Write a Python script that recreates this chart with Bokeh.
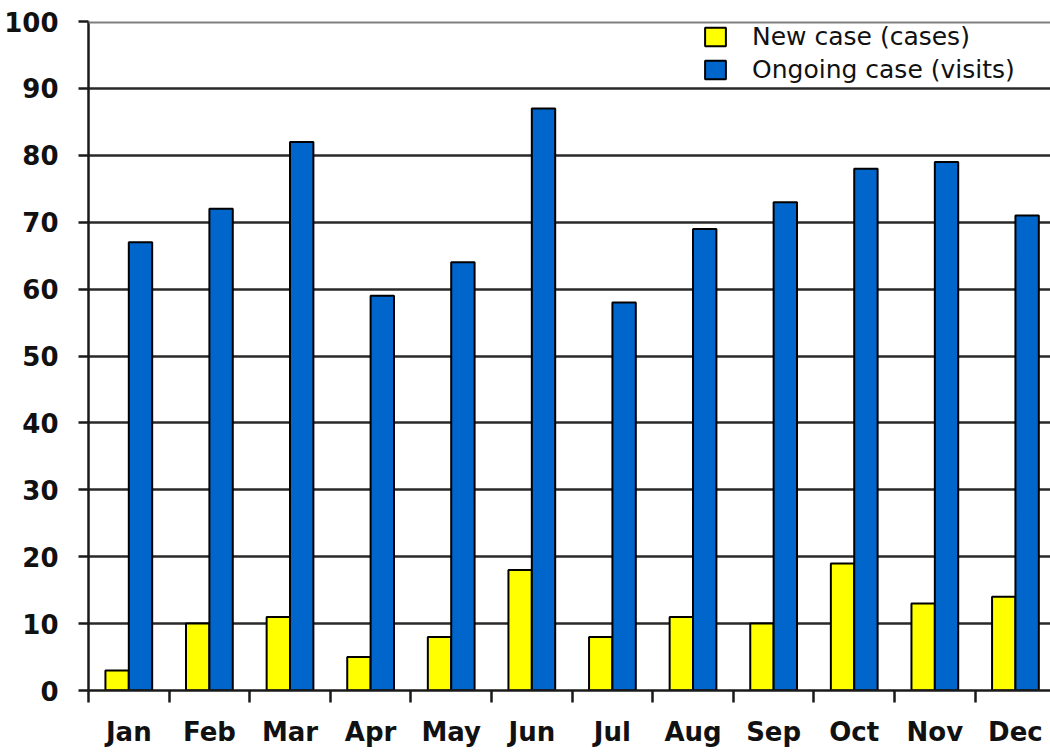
from bokeh.plotting import figure
from bokeh.models import Range1d, FixedTicker, Legend, LegendItem, ColumnDataSource, Span
from bokeh.transform import dodge
from bokeh.embed import file_html
from bokeh.resources import INLINE

months = ["Jan", "Feb", "Mar", "Apr", "May", "Jun", "Jul", "Aug", "Sep", "Oct", "Nov", "Dec"]
new_cases = [3, 10, 11, 5, 8, 18, 8, 11, 10, 19, 13, 14]
ongoing_visits = [67, 72, 82, 59, 64, 87, 58, 69, 73, 78, 79, 71]
y_ticks = [0, 10, 20, 30, 40, 50, 60, 70, 80, 90, 100]

idx = list(range(len(months)))
src = ColumnDataSource(dict(x=idx, new=new_cases, ongoing=ongoing_visits))

p = figure(width=1050, height=753, output_backend="svg", toolbar_location=None,
           x_range=Range1d(-0.5, 11.435), y_range=Range1d(0, 100),
           min_border_left=88, min_border_right=0, min_border_top=21, min_border_bottom=63)

p.outline_line_color = None

dark = "#1a1a1a"
tick_font = "DejaVu Sans"

# y axis
p.yaxis.ticker = FixedTicker(ticks=y_ticks)
p.yaxis.axis_line_color = dark
p.yaxis.axis_line_width = 2.5
p.yaxis.major_tick_out = 10
p.yaxis.major_tick_in = 0
p.yaxis.major_tick_line_color = dark
p.yaxis.major_tick_line_width = 2.5
p.yaxis.minor_tick_line_color = None
p.yaxis.major_label_standoff = 20
p.yaxis.major_label_text_font = tick_font
p.yaxis.major_label_text_font_style = "bold"
p.yaxis.major_label_text_font_size = "26px"
p.yaxis.major_label_text_color = "#111111"

# x axis
p.xaxis.ticker = FixedTicker(ticks=idx, minor_ticks=[i - 0.5 for i in range(len(months) + 1)])
p.xaxis.major_label_overrides = {i: m for i, m in zip(idx, months)}
p.xaxis.axis_line_color = dark
p.xaxis.axis_line_width = 2.5
p.xaxis.major_tick_out = 0
p.xaxis.major_tick_in = 0
p.xaxis.major_tick_line_color = None
p.xaxis.minor_tick_out = 12
p.xaxis.minor_tick_in = 0
p.xaxis.minor_tick_line_color = dark
p.xaxis.minor_tick_line_width = 2.5
p.xaxis.major_label_standoff = 14
p.xaxis.major_label_text_font = tick_font
p.xaxis.major_label_text_font_style = "bold"
p.xaxis.major_label_text_font_size = "26px"
p.xaxis.major_label_text_color = "#111111"

# grid
p.xgrid.visible = False
p.ygrid.ticker = FixedTicker(ticks=y_ticks[1:-1])
p.ygrid.grid_line_color = "#2a2a2a"
p.ygrid.grid_line_width = 2.5

# gray top border line at the axis maximum
p.add_layout(Span(location=y_ticks[-1], dimension="width", line_color="#808080", line_width=4))

r1 = p.vbar(x=dodge("x", -0.145), top="new", width=0.29, source=src,
            fill_color="#ffff00", line_color="black", line_width=2)
r2 = p.vbar(x=dodge("x", 0.145), top="ongoing", width=0.29, source=src,
            fill_color="#0066cc", line_color="black", line_width=2)

legend = Legend(items=[LegendItem(label="New case (cases)", renderers=[r1]),
                       LegendItem(label="Ongoing case (visits)", renderers=[r2])],
                location=(614, 606), padding=2, spacing=4, margin=0,
                glyph_width=26, glyph_height=23, label_standoff=24,
                label_text_font="DejaVu Sans", label_text_font_size="25px",
                label_text_color="#111111",
                background_fill_alpha=0, border_line_color=None)
p.add_layout(legend)

open("out.html", "w").write(file_html(p, INLINE))
